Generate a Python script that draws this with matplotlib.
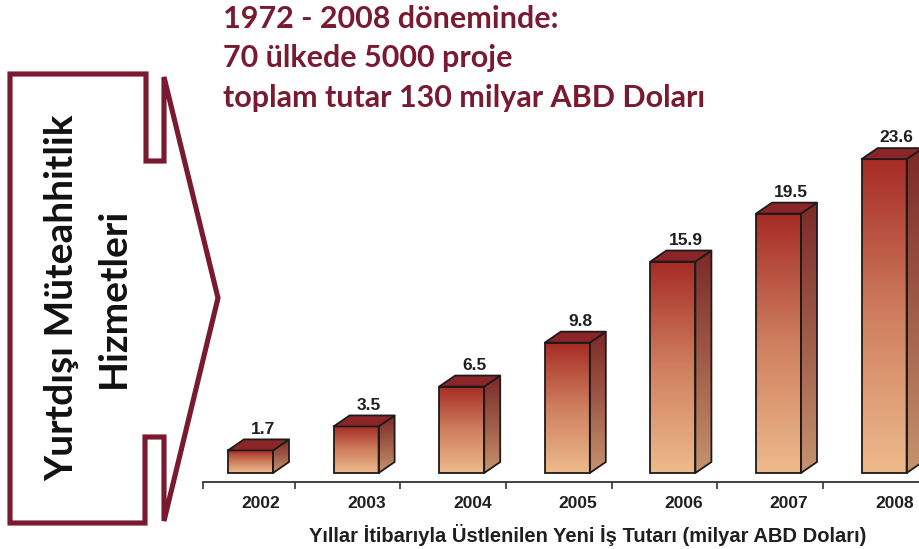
import numpy as np
import matplotlib
matplotlib.use("Agg")
import matplotlib.pyplot as plt
from matplotlib.patches import Polygon
from matplotlib.colors import LinearSegmentedColormap

############ Data ############
years = ["2002", "2003", "2004", "2005", "2006", "2007", "2008"]
values = [1.7, 3.5, 6.5, 9.8, 15.9, 19.5, 23.6]

title_lines = ["1972 - 2008 döneminde:",
               "70 ülkede 5000 proje",
               "toplam tutar 130 milyar ABD Doları"]
side_lines = ["Yurtdışı Müteahhitlik", "Hizmetleri"]
x_title = "Yıllar İtibarıyla Üstlenilen Yeni İş Tutarı (milyar ABD Doları)"

############ Style ############
W, H = 920, 549
maroon = "#7a1a30"
edge = "#1e1a1a"
front_cmap = LinearSegmentedColormap.from_list("front", ["#eebb8c", "#cf7f5f", "#a62b25"])
side_cmap = LinearSegmentedColormap.from_list("side", ["#c6946e", "#a05c48", "#7b2926"])
top_col = "#8b2528"

fig = plt.figure(figsize=(W / 100, H / 100), dpi=100)

############ Decoration layer (pixel coords) ############
bg = fig.add_axes([0, 0, 1, 1])
bg.set_xlim(0, W)
bg.set_ylim(H, 0)
bg.axis("off")

chevron = [(10, 74), (146, 74), (146, 161), (164, 161), (164, 77), (218, 298),
           (164, 521), (164, 437), (145, 437), (145, 523), (10, 523)]
bg.add_patch(Polygon(chevron, closed=True, fill=False, edgecolor=maroon,
                     lw=3.7, joinstyle="miter"))

bg.text(62, 298, side_lines[0], rotation=90, ha="center", va="center",
        fontsize=28, fontweight="bold", family="Lato", color="#111111")
bg.text(113, 298, side_lines[1], rotation=90, ha="center", va="center",
        fontsize=28, fontweight="bold", family="Lato", color="#111111")

for k, line in enumerate(title_lines):
    bg.text(223, 28 + 39.5 * k, line, ha="left", va="baseline",
            fontsize=22, fontweight="bold", family="Lato", color=maroon)

bg.text(588, 535, x_title, ha="center", va="center", fontsize=14.5,
        fontweight="bold", family="Liberation Sans", color="#1f1f1f")

############ Bars ############
ax = fig.add_axes([203 / W, 67 / H, (W - 203) / W, (H - 67) / H])
ax.set_facecolor("none")
px_x = 105.6   # pixels per category
px_y = 13.3    # pixels per unit
x_lo, x_hi = (203 - 250.5) / px_x, (W - 250.5) / px_x
y_lo, y_hi = -9 / px_y, (H - 76) / px_y

half = 22.5 / px_x
dx = 16 / px_x
dy = 11 / px_y
grad = np.linspace(0, 1, 256).reshape(-1, 1)

for i, v in enumerate(values):
    x0, x1 = i - half, i + half
    # front face
    front = Polygon([(x0, 0), (x1, 0), (x1, v), (x0, v)], closed=True,
                    facecolor="none", edgecolor=edge, lw=1.3, zorder=4)
    ax.add_patch(front)
    im = ax.imshow(grad, extent=[x0, x1, 0, v], origin="lower", cmap=front_cmap,
                   aspect="auto", zorder=2, interpolation="bilinear")
    im.set_clip_path(front)
    # side face
    side = Polygon([(x1, 0), (x1 + dx, dy), (x1 + dx, v + dy), (x1, v)], closed=True,
                   facecolor="none", edgecolor=edge, lw=1.3, zorder=4)
    ax.add_patch(side)
    im = ax.imshow(grad, extent=[x1, x1 + dx, 0, v + dy], origin="lower", cmap=side_cmap,
                   aspect="auto", zorder=2, interpolation="bilinear")
    im.set_clip_path(side)
    # top face
    ax.add_patch(Polygon([(x0, v), (x1, v), (x1 + dx, v + dy), (x0 + dx, v + dy)],
                         closed=True, facecolor=top_col, edgecolor=edge, lw=1.3,
                         joinstyle="round", zorder=4))
    ax.annotate("{:.1f}".format(v), (i + 0.12, v + dy), xytext=(0, 2),
                textcoords="offset points", ha="center", va="bottom",
                fontsize=12.5, fontweight="bold", family="Liberation Sans",
                color="#1f1f1f")

ax.set_xlim(x_lo, x_hi)
ax.set_ylim(y_lo, y_hi)

for s in ["top", "right", "left"]:
    ax.spines[s].set_visible(False)
ax.spines["bottom"].set_color("#333333")
ax.spines["bottom"].set_linewidth(1.3)
ax.set_yticks([])
ax.set_xticks([i + 0.1 for i in range(len(years))])
ax.set_xticklabels(years, fontsize=12.5, fontweight="bold", family="Liberation Sans",
                   color="#1f1f1f")
ax.tick_params(axis="x", which="major", length=0, pad=10)
ax.set_xticks([x_lo] + [i + 0.42 for i in range(len(years) - 1)], minor=True)
ax.tick_params(axis="x", which="minor", length=5, width=1.2, color="#333333",
               direction="out")

fig.savefig("out.png", dpi=100)
